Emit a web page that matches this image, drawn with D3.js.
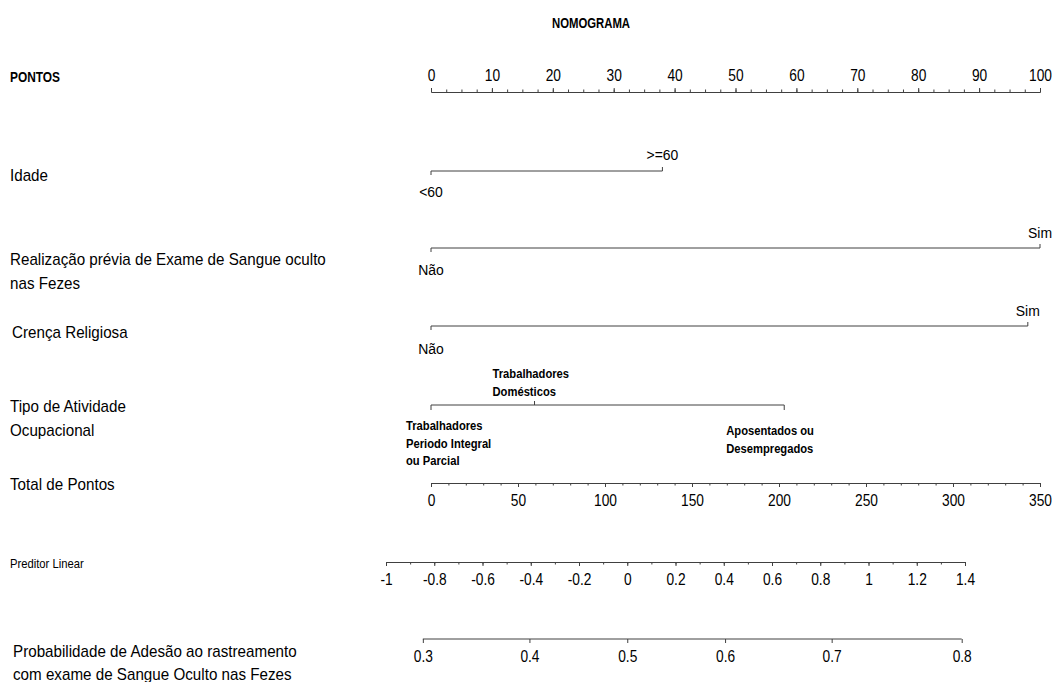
<!DOCTYPE html>
<html>
<head>
<meta charset="utf-8">
<script src="https://cdn.jsdelivr.net/npm/d3@7"></script>
<style>
  html, body { margin: 0; padding: 0; background: #fff; }
  svg { display: block; font-family: "Liberation Sans", Arial, sans-serif; }
</style>
</head>
<body>
<svg id="chart" width="1052" height="682"></svg>
<script>
// ---- data ----
const pointsTicks = d3.range(0, 101, 10);
const pointsMinor = d3.range(0, 100.01, 2.5);

const idadeLevels = ["<60", ">=60"];
const idadePoints = [0, 38];

const exameLevels = ["Não", "Sim"];
const examePoints = [0, 100];

const crencaLevels = ["Não", "Sim"];
const crencaPoints = [0, 98];

const atividadeLevels = [
  ["Trabalhadores", "Periodo Integral", "ou Parcial"],
  ["Trabalhadores", "Domésticos"],
  ["Aposentados ou", "Desempregados"]
];
const atividadePoints = [0, 17, 58];

const totalTicks = d3.range(0, 351, 50);
const totalMinor = d3.range(0, 350.01, 10);

const lpTicks = [-1, -0.8, -0.6, -0.4, -0.2, 0, 0.2, 0.4, 0.6, 0.8, 1, 1.2, 1.4];
const lpMinor = d3.range(-1, 1.4001, 0.1);

const probTicks = [0.3, 0.4, 0.5, 0.6, 0.7, 0.8];

// ---- setup ----
const svg = d3.select("#chart");
const LINE = "#404040";
const TICK_SX = 0.86;     // narrow digit rendering on the axes
const fmt = d => (Math.round(d * 10) / 10).toString();

const pts = d3.scaleLinear().domain([0, 100]).range([431, 1040]);
const tot = d3.scaleLinear().domain([0, 350]).range([431, 1040]);
const lp = d3.scaleLinear().domain([-1, 1.4]).range([386, 965]);
const logit = p => Math.log(p / (1 - p));

function txt(x, y, s, o = {}) {
  return svg.append("text")
    .attr("transform", `translate(${x},${y}) scale(${o.sx || 0.95},1)`)
    .attr("text-anchor", o.anchor || "start")
    .attr("font-size", o.size || 16)
    .attr("font-weight", o.bold ? "bold" : "normal")
    .attr("fill", "#000")
    .text(s);
}

function styleAxis(g, size) {
  g.select(".domain").attr("stroke", LINE).attr("stroke-width", 1);
  g.selectAll(".tick line").attr("stroke", LINE);
  g.selectAll(".tick text").attr("fill", "#000")
    .attr("font-size", size).attr("font-family", "'Liberation Sans', Arial, sans-serif")
    .attr("transform", `scale(${TICK_SX},1)`);
}

// continuous axis: minor ticks + labelled major ticks
function contAxis(scale, y, major, minor, dir, opts = {}) {
  const mk = dir === "top" ? d3.axisTop : d3.axisBottom;
  if (minor) {
    const gm = svg.append("g").attr("transform", `translate(0,${y})`)
      .call(mk(scale).tickValues(minor).tickSize(2.5).tickSizeOuter(0).tickFormat(""));
    styleAxis(gm, 16);
  }
  const g = svg.append("g").attr("transform", `translate(0,${y})`)
    .call(mk(scale).tickValues(major).tickSize(4).tickSizeOuter(0)
      .tickPadding(opts.pad || 8).tickFormat(opts.format || fmt));
  styleAxis(g, 16);
  return g;
}

// ---- title ----
txt(591, 28, "NOMOGRAMA", { anchor: "middle", size: 14, bold: true, sx: 0.81 });

// ---- Pontos ----
txt(10, 82, "PONTOS", { size: 14, bold: true, sx: 0.85 });
contAxis(pts, 92, pointsTicks, pointsMinor, "top", { pad: 7 });

// categorical rows: level labels alternate below / above the line
function catRow(points, levels, y, lab) {
  svg.append("line")
    .attr("x1", pts(d3.min(points))).attr("x2", pts(d3.max(points)))
    .attr("y1", y).attr("y2", y).attr("stroke", LINE);
  points.forEach((p, i) => {
    const up = i % 2 === 1;
    svg.append("line")
      .attr("x1", pts(p)).attr("x2", pts(p))
      .attr("y1", y).attr("y2", up ? y - 4 : y + 4)
      .attr("stroke", LINE);
    txt(pts(p), up ? y - lab.up : y + lab.down, levels[i], { anchor: "middle", size: 15.5, sx: 0.9 });
  });
}

// Idade
txt(10, 181, "Idade");
catRow(idadePoints, idadeLevels, 171, { up: 11, down: 26 });

// Realização prévia de exame
txt(10, 265, "Realização prévia de Exame de Sangue oculto");
txt(10, 289, "nas Fezes");
catRow(examePoints, exameLevels, 248, { up: 10, down: 27 });

// Crença religiosa
txt(12, 338, "Crença Religiosa");
catRow(crencaPoints, crencaLevels, 326, { up: 10, down: 28 });

// Tipo de atividade ocupacional
txt(10, 412, "Tipo de Atividade");
txt(10, 436, "Ocupacional");
(function () {
  const y = 405;
  svg.append("line")
    .attr("x1", pts(d3.min(atividadePoints))).attr("x2", pts(d3.max(atividadePoints)))
    .attr("y1", y).attr("y2", y).attr("stroke", LINE);
  // block placement of each multi-line label relative to its tick
  const place = [
    { dx: -25, top: 430 - y },
    { dx: -42, top: 378 - y },
    { dx: -58, top: 435 - y }
  ];
  const lineH = 17.6;
  atividadePoints.forEach((p, i) => {
    const up = i % 2 === 1;
    const x = pts(p);
    svg.append("line")
      .attr("x1", x).attr("x2", x)
      .attr("y1", y).attr("y2", up ? y - 4 : y + 5)
      .attr("stroke", LINE);
    atividadeLevels[i].forEach((ln, k) => {
      txt(x + place[i].dx, y + place[i].top + k * lineH, ln, { size: 12.6, bold: true, sx: 0.89 });
    });
  });
})();

// ---- Total de Pontos ----
txt(10, 490, "Total de Pontos");
contAxis(tot, 483, totalTicks, totalMinor, "bottom", { pad: 8 });

// ---- Preditor Linear ----
txt(10, 568, "Preditor Linear", { size: 12.5, sx: 0.9 });
contAxis(lp, 562, lpTicks, lpMinor, "bottom", { pad: 8 });

// ---- Probabilidade (logit positions on the linear predictor scale) ----
txt(13, 657, "Probabilidade de Adesão ao rastreamento");
txt(13, 680, "com exame de Sangue Oculto nas Fezes");
(function () {
  const y = 639;
  const g = svg.append("g").attr("transform", `translate(0,${y})`)
    .call(d3.axisBottom(lp).tickValues(probTicks.map(logit))
      .tickSize(4).tickSizeOuter(0).tickPadding(8)
      .tickFormat((d, i) => fmt(probTicks[i])));
  // axis line spans only the probability range
  g.select(".domain").attr("d",
    `M${lp(logit(probTicks[0]))},0H${lp(logit(probTicks[probTicks.length - 1]))}`);
  styleAxis(g, 16);
})();
</script>
</body>
</html>
